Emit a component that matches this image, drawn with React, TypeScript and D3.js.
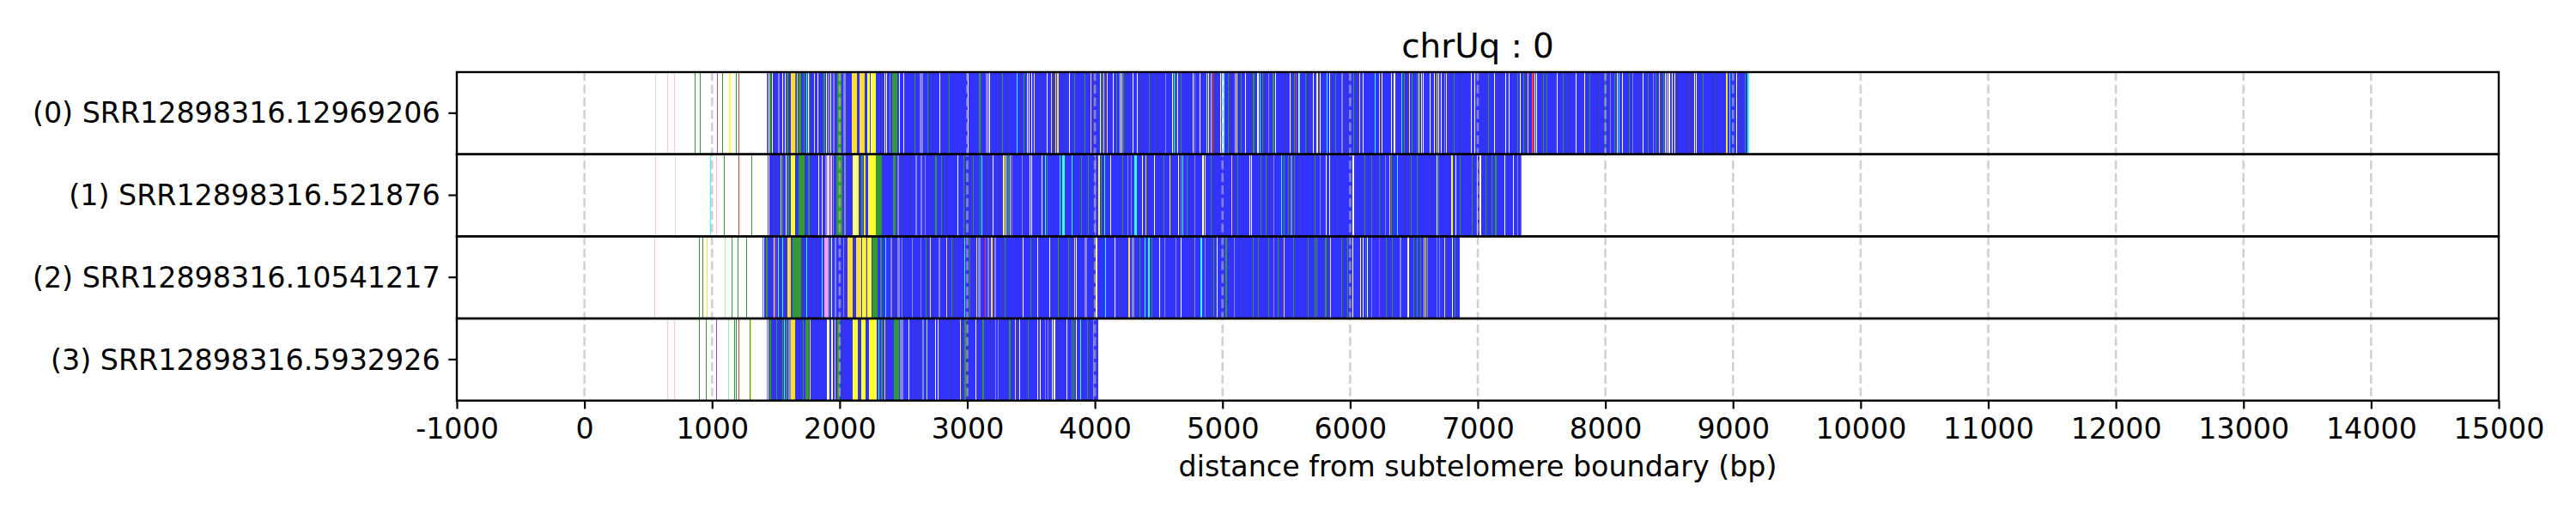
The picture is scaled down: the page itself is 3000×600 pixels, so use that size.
import { useEffect, useRef } from 'react'
import * as d3 from 'd3'

type Feature = [number, number, string] // [start bp, length bp, colour key]

const title = 'chrUq : 0'
const xLabel = 'distance from subtelomere boundary (bp)'
const readLabels = [
  '(0) SRR12898316.12969206',
  '(1) SRR12898316.521876',
  '(2) SRR12898316.10541217',
  '(3) SRR12898316.5932926',
]
const blockStart = [1431, 1436, 1397, 1431]
const blockEnd = [9126, 7341, 6859, 4026]
const xTicks = d3.range(-1000, 15001, 1000)
const gridTicks = d3.range(0, 14001, 1000)

const palette: Record<string, string> = {
  B: '#3333ff', G: '#339933', Y: '#ffdd33', L: '#ffff33', C: '#33ffff',
  P: '#8585e0', D: '#3a3aa0', W: '#ffffff', K: '#ffc4d2', I: '#f19bf1',
  V: '#a944dd', R: '#ff3b3b', E: '#a6f0a6', M: '#b84444', S: '#dedede',
}

const read0: Feature[] = [
  [552, 6, 'S'], [650, 6, 'K'], [702, 6, 'K'], [865, 6, 'G'], [906, 6, 'G'], [1040, 6, 'V'], [1081, 6, 'G'],
  [1130, 6, 'L'], [1140, 6, 'L'], [1189, 6, 'G'], [1207, 6, 'M'],
  [1442, 7, 'W'], [1451, 11, 'G'], [1469, 7, 'W'], [1481, 7, 'D'], [1516, 11, 'P'], [1550, 7, 'W'], [1572, 7, 'W'],
  [1584, 11, 'G'], [1606, 7, 'D'], [1615, 36, 'Y'], [1651, 9, 'G'], [1662, 11, 'Y'], [1678, 18, 'G'], [1700, 7, 'D'],
  [1716, 11, 'G'], [1741, 7, 'C'], [1750, 7, 'W'], [1759, 9, 'G'], [1799, 9, 'Y'], [1828, 7, 'W'], [1871, 18, 'G'],
  [1893, 7, 'W'], [1907, 13, 'P'], [1929, 7, 'W'], [1947, 11, 'P'], [1981, 34, 'G'], [2028, 18, 'P'], [2059, 7, 'D'],
  [2095, 40, 'Y'], [2158, 36, 'Y'], [2194, 7, 'D'], [2216, 22, 'L'], [2241, 7, 'W'], [2250, 34, 'L'], [2319, 7, 'D'],
  [2335, 7, 'D'], [2351, 7, 'W'], [2366, 5, 'W'], [2391, 9, 'P'], [2414, 40, 'G'], [2467, 7, 'W'], [2499, 7, 'W'],
  [2588, 7, 'G'], [2624, 27, 'P'], [2687, 7, 'G'], [2725, 7, 'D'], [2781, 7, 'W'], [2858, 7, 'G'],
  [3006, 7, 'W'], [3091, 11, 'G'], [3147, 27, 'P'], [3174, 7, 'W'], [3248, 7, 'D'], [3270, 7, 'G'], [3304, 7, 'D'],
  [3389, 7, 'C'], [3423, 7, 'D'], [3438, 9, 'G'], [3465, 7, 'W'], [3483, 7, 'W'], [3499, 11, 'W'], [3521, 7, 'Y'],
  [3562, 7, 'D'], [3625, 7, 'W'], [3656, 7, 'Y'], [3670, 7, 'D'], [3692, 7, 'Y'], [3706, 9, 'Y'], [3759, 7, 'D'],
  [3800, 7, 'W'], [3838, 7, 'G'], [3916, 7, 'G'], [3966, 9, 'Y'], [4037, 7, 'W'], [4055, 7, 'G'], [4069, 7, 'Y'],
  [4091, 7, 'Y'], [4141, 7, 'W'], [4167, 7, 'G'], [4194, 7, 'W'], [4208, 7, 'W'], [4224, 7, 'G'], [4257, 7, 'D'],
  [4297, 7, 'W'], [4329, 7, 'W'], [4365, 7, 'D'], [4425, 7, 'G'], [4486, 7, 'D'], [4549, 7, 'P'],
  [4607, 7, 'W'], [4620, 7, 'C'], [4629, 7, 'G'], [4647, 7, 'W'], [4672, 7, 'G'], [4764, 7, 'W'], [4782, 7, 'P'],
  [4820, 7, 'W'], [4874, 7, 'E'], [4885, 7, 'W'], [4907, 7, 'Y'], [4921, 9, 'R'], [4934, 7, 'D'], [4979, 9, 'W'],
  [4997, 9, 'W'], [5008, 7, 'C'], [5042, 7, 'G'], [5065, 7, 'D'], [5098, 7, 'Y'], [5109, 7, 'W'], [5143, 7, 'G'],
  [5177, 9, 'W'], [5217, 7, 'D'], [5239, 11, 'G'], [5273, 9, 'W'], [5293, 7, 'C'], [5311, 7, 'G'], [5334, 7, 'D'],
  [5356, 7, 'P'], [5390, 13, 'G'], [5414, 7, 'W'], [5486, 7, 'D'], [5524, 7, 'W'], [5558, 7, 'G'], [5571, 7, 'R'],
  [5594, 7, 'W'], [5603, 7, 'C'], [5648, 7, 'G'], [5670, 7, 'D'], [5711, 7, 'W'], [5733, 13, 'L'], [5760, 7, 'W'],
  [5816, 7, 'C'], [5838, 7, 'W'], [5883, 7, 'G'], [5928, 13, 'P'], [5962, 7, 'D'], [6024, 7, 'G'], [6069, 7, 'Y'],
  [6101, 7, 'W'],
  [6193, 7, 'C'], [6226, 7, 'Y'], [6249, 7, 'W'], [6320, 9, 'W'], [6343, 9, 'W'], [6399, 7, 'C'], [6421, 7, 'G'],
  [6437, 7, 'D'], [6460, 7, 'Y'], [6482, 7, 'G'], [6522, 7, 'G'], [6538, 7, 'W'], [6554, 7, 'L'], [6572, 7, 'W'],
  [6623, 7, 'W'], [6657, 7, 'W'], [6675, 7, 'Y'], [6693, 7, 'W'], [6713, 7, 'W'], [6736, 7, 'P'], [6753, 7, 'Y'],
  [6809, 7, 'G'], [6859, 7, 'D'], [6944, 7, 'W'], [6971, 7, 'W'], [7083, 7, 'G'], [7128, 7, 'W'], [7173, 7, 'D'],
  [7213, 7, 'W'], [7240, 7, 'W'], [7307, 7, 'G'], [7330, 9, 'W'], [7357, 7, 'G'], [7390, 9, 'Y'], [7426, 9, 'R'],
  [7446, 7, 'W'], [7460, 7, 'W'], [7509, 7, 'G'], [7541, 7, 'G'], [7621, 7, 'W'], [7666, 7, 'G'], [7711, 7, 'D'],
  [7767, 7, 'W'],
  [7832, 9, 'W'], [7872, 7, 'G'], [7935, 7, 'D'], [7998, 7, 'G'], [8034, 7, 'P'], [8070, 7, 'G'], [8092, 7, 'W'],
  [8106, 7, 'C'], [8133, 7, 'W'], [8186, 7, 'G'], [8209, 7, 'P'], [8263, 7, 'D'], [8290, 7, 'W'], [8330, 9, 'G'],
  [8375, 7, 'P'], [8393, 7, 'G'], [8418, 7, 'Y'], [8451, 7, 'G'], [8465, 7, 'W'], [8478, 5, 'W'], [8492, 5, 'L'],
  [8503, 5, 'W'], [8518, 7, 'W'], [8541, 7, 'W'], [8554, 13, 'D'], [8635, 7, 'D'], [8666, 7, 'D'], [8693, 7, 'W'],
  [8711, 7, 'W'], [8760, 7, 'G'], [8837, 7, 'D'], [8873, 7, 'D'], [8945, 13, 'Y'], [8971, 7, 'C'], [9028, 7, 'W'],
  [9057, 7, 'D'], [9090, 7, 'G'], [9116, 8, 'C'],
]

const read1: Feature[] = [
  [552, 6, 'K'], [707, 6, 'S'], [983, 9, 'C'], [1035, 6, 'K'], [1094, 6, 'G'], [1207, 6, 'M'], [1310, 6, 'G'],
  [1442, 7, 'W'], [1465, 7, 'D'], [1498, 7, 'D'], [1534, 9, 'Y'], [1548, 7, 'G'], [1579, 7, 'W'], [1593, 9, 'G'],
  [1615, 36, 'L'], [1651, 7, 'D'], [1678, 49, 'G'], [1727, 7, 'D'], [1752, 13, 'G'], [1830, 7, 'W'], [1862, 5, 'W'],
  [1889, 9, 'P'], [1902, 13, 'K'], [1916, 5, 'W'], [1929, 9, 'K'], [1947, 9, 'P'], [1974, 45, 'G'], [2037, 9, 'P'],
  [2064, 7, 'D'], [2100, 16, 'L'], [2116, 13, 'W'], [2129, 18, 'L'], [2153, 7, 'D'], [2171, 13, 'G'], [2189, 13, 'Y'],
  [2221, 63, 'L'], [2284, 45, 'G'], [2418, 18, 'G'], [2454, 9, 'P'], [2485, 7, 'D'], [2553, 7, 'D'], [2593, 13, 'P'],
  [2631, 13, 'P'], [2665, 11, 'P'], [2750, 9, 'G'], [2795, 7, 'G'], [2833, 7, 'D'], [2923, 7, 'W'],
  [2967, 11, 'G'], [3001, 7, 'D'], [3041, 7, 'G'], [3095, 7, 'G'], [3113, 7, 'C'], [3147, 7, 'D'], [3174, 7, 'D'],
  [3196, 7, 'W'], [3243, 7, 'D'], [3282, 9, 'L'], [3297, 9, 'W'], [3311, 13, 'G'], [3333, 9, 'K'], [3349, 7, 'P'],
  [3427, 7, 'P'], [3488, 7, 'W'], [3501, 7, 'W'], [3584, 7, 'W'], [3607, 7, 'C'], [3625, 7, 'G'], [3723, 9, 'C'],
  [3746, 18, 'C'], [3777, 7, 'D'], [3815, 9, 'C'], [3894, 7, 'G'], [3943, 9, 'G'], [3999, 9, 'P'], [4028, 9, 'L'],
  [4046, 7, 'G'], [4073, 7, 'C'], [4118, 7, 'W'], [4212, 7, 'G'], [4257, 7, 'P'], [4280, 7, 'P'], [4311, 9, 'C'],
  [4324, 7, 'C'], [4369, 7, 'W'], [4396, 7, 'Y'], [4414, 7, 'D'], [4463, 7, 'W'], [4537, 7, 'G'],
  [4582, 9, 'L'], [4652, 7, 'W'], [4670, 7, 'P'], [4688, 7, 'C'], [4719, 7, 'G'], [4777, 7, 'P'], [4842, 9, 'W'],
  [4858, 7, 'L'], [4907, 7, 'G'], [5069, 7, 'K'], [5114, 7, 'G'], [5208, 7, 'W'], [5222, 7, 'W'], [5298, 7, 'G'],
  [5338, 7, 'G'], [5367, 7, 'D'], [5396, 7, 'P'], [5457, 7, 'C'], [5479, 7, 'G'], [5513, 9, 'G'], [5535, 13, 'P'],
  [5558, 7, 'G'], [5592, 7, 'D'], [5719, 7, 'G'], [5764, 7, 'P'], [5809, 7, 'W'], [5838, 7, 'W'], [5912, 7, 'D'],
  [6020, 9, 'W'], [6114, 7, 'G'], [6164, 7, 'G'],
  [6226, 7, 'G'], [6276, 7, 'P'], [6309, 7, 'Y'], [6320, 7, 'G'], [6365, 7, 'C'], [6421, 7, 'D'], [6473, 7, 'G'],
  [6522, 7, 'G'], [6635, 7, 'D'], [6675, 7, 'W'], [6693, 7, 'G'], [6792, 11, 'L'], [6827, 7, 'W'], [6859, 7, 'G'],
  [6953, 7, 'G'], [6993, 9, 'K'], [7016, 13, 'W'], [7061, 7, 'G'], [7106, 7, 'G'], [7137, 13, 'G'], [7206, 7, 'W'],
  [7274, 7, 'W'], [7307, 7, 'P'],
]

const read2: Feature[] = [
  [546, 6, 'K'], [896, 7, 'G'], [922, 7, 'G'], [958, 9, 'Y'], [1100, 7, 'E'], [1150, 7, 'G'], [1202, 7, 'G'],
  [1265, 7, 'G'],
  [1403, 9, 'W'], [1420, 13, 'G'], [1449, 7, 'D'], [1481, 7, 'W'], [1494, 7, 'R'], [1516, 9, 'C'], [1534, 7, 'D'],
  [1552, 7, 'C'], [1570, 7, 'D'], [1593, 27, 'Y'], [1620, 7, 'D'], [1633, 63, 'G'], [1696, 7, 'D'], [1714, 7, 'D'],
  [1741, 7, 'C'], [1779, 7, 'D'], [1812, 7, 'D'], [1857, 7, 'C'], [1880, 36, 'I'], [1920, 9, 'G'], [1936, 7, 'W'],
  [1958, 18, 'P'], [2025, 11, 'P'], [2064, 36, 'Y'], [2104, 7, 'D'], [2131, 36, 'Y'], [2176, 18, 'L'], [2194, 13, 'Y'],
  [2216, 34, 'L'], [2256, 40, 'G'], [2319, 9, 'G'], [2355, 7, 'C'], [2396, 13, 'P'], [2418, 7, 'D'], [2454, 18, 'P'],
  [2485, 9, 'P'], [2530, 7, 'D'], [2564, 11, 'P'], [2631, 11, 'P'], [2676, 7, 'G'], [2710, 7, 'Y'], [2732, 7, 'D'],
  [2777, 11, 'P'], [2838, 7, 'Y'], [2878, 7, 'G'], [2912, 7, 'D'],
  [2974, 7, 'C'], [3019, 7, 'G'], [3073, 7, 'Y'], [3082, 22, 'P'], [3140, 7, 'R'], [3158, 11, 'P'], [3187, 9, 'Y'],
  [3214, 11, 'P'], [3270, 7, 'D'], [3293, 7, 'G'], [3436, 7, 'W'], [3495, 7, 'G'], [3551, 7, 'W'], [3640, 7, 'W'],
  [3710, 7, 'G'], [3719, 7, 'D'], [3791, 7, 'G'], [3836, 7, 'Y'], [3853, 7, 'W'], [3921, 18, 'P'], [3979, 7, 'D'],
  [4006, 7, 'W'], [4015, 7, 'L'], [4078, 7, 'C'], [4156, 7, 'W'], [4201, 7, 'D'], [4262, 13, 'Y'], [4291, 18, 'P'],
  [4347, 7, 'G'], [4387, 9, 'C'], [4414, 13, 'C'], [4441, 7, 'G'], [4504, 7, 'W'], [4544, 7, 'P'],
  [4634, 7, 'P'], [4674, 7, 'W'], [4755, 7, 'D'], [4777, 7, 'P'], [4825, 13, 'C'], [4863, 7, 'P'], [4896, 7, 'D'],
  [4930, 7, 'G'], [4957, 7, 'W'], [5020, 7, 'G'], [5031, 7, 'G'], [5092, 7, 'P'], [5154, 7, 'D'], [5235, 7, 'G'],
  [5280, 7, 'G'], [5361, 7, 'G'], [5396, 7, 'P'], [5430, 7, 'G'], [5482, 7, 'Y'], [5553, 7, 'G'], [5666, 7, 'G'],
  [5719, 9, 'G'], [5733, 7, 'G'], [5805, 13, 'G'], [5845, 7, 'Y'], [5928, 11, 'G'], [5975, 7, 'G'], [6015, 9, 'W'],
  [6078, 7, 'W'], [6101, 7, 'W'], [6119, 7, 'G'], [6130, 7, 'W'], [6168, 7, 'P'],
  [6226, 7, 'V'], [6280, 7, 'G'], [6325, 7, 'G'], [6388, 11, 'P'], [6450, 9, 'W'], [6495, 7, 'G'], [6522, 7, 'G'],
  [6551, 7, 'G'], [6578, 7, 'Y'], [6590, 7, 'Y'], [6603, 7, 'P'], [6675, 7, 'P'], [6697, 7, 'P'], [6735, 9, 'Y'],
  [6796, 9, 'W'], [6818, 7, 'G'],
]

const read3: Feature[] = [
  [650, 6, 'K'], [702, 6, 'K'], [898, 7, 'G'], [953, 7, 'G'], [1030, 7, 'V'], [1125, 7, 'E'], [1171, 7, 'G'],
  [1184, 7, 'G'], [1205, 7, 'M'], [1292, 7, 'G'], [1300, 7, 'L'],
  [1435, 7, 'W'], [1449, 13, 'G'], [1481, 7, 'D'], [1503, 9, 'G'], [1534, 7, 'D'], [1548, 7, 'G'], [1561, 7, 'C'],
  [1579, 9, 'G'], [1597, 22, 'P'], [1620, 31, 'Y'], [1655, 7, 'D'], [1678, 7, 'D'], [1711, 7, 'G'], [1734, 22, 'G'],
  [1763, 7, 'Y'], [1781, 7, 'D'], [1898, 13, 'W'], [1913, 9, 'Y'], [1936, 13, 'W'], [1958, 9, 'Y'], [1978, 22, 'G'],
  [2014, 7, 'D'], [2104, 40, 'L'], [2153, 7, 'D'], [2171, 31, 'L'], [2207, 7, 'D'], [2230, 63, 'L'], [2306, 7, 'C'],
  [2324, 11, 'G'], [2351, 7, 'Y'], [2423, 45, 'G'], [2474, 27, 'P'], [2541, 7, 'W'], [2620, 7, 'D'], [2647, 11, 'P'],
  [2683, 7, 'E'], [2698, 7, 'D'], [2745, 7, 'W'], [2768, 7, 'W'], [2867, 7, 'D'], [2945, 7, 'Y'],
  [2979, 9, 'G'], [3001, 7, 'D'], [3064, 7, 'W'], [3118, 11, 'G'], [3169, 7, 'D'], [3221, 7, 'P'], [3237, 7, 'P'],
  [3326, 11, 'G'], [3371, 7, 'Y'], [3409, 7, 'W'], [3472, 11, 'G'], [3551, 7, 'W'], [3566, 7, 'W'], [3607, 7, 'P'],
  [3629, 7, 'P'], [3663, 7, 'W'], [3679, 9, 'W'], [3719, 7, 'D'], [3775, 7, 'W'], [3818, 9, 'G'], [3831, 7, 'G'],
  [3849, 7, 'W'], [3887, 7, 'C'], [3939, 7, 'G'], [3988, 7, 'P'],
]

const readFeatures = [read0, read1, read2, read3]

export default function App() {
  const svgRef = useRef<SVGSVGElement>(null)

  useEffect(() => {
    if (!svgRef.current) return

    const width = 3000
    const height = 600
    const margin = { top: 84, right: 90, bottom: 133.3, left: 532 }
    const font = "'DejaVu Sans', sans-serif"

    const svg = d3.select(svgRef.current)
    svg.selectAll('*').remove()

    svg.append('rect').attr('width', width).attr('height', height).attr('fill', '#ffffff')

    const x = d3.scaleLinear().domain([-1000, 15000]).range([margin.left, width - margin.right])
    const y = d3.scaleBand<number>()
      .domain(d3.range(readLabels.length))
      .range([margin.top, height - margin.bottom])
      .padding(0)

    // reads: telomeric block in blue, repeat variants painted over it
    readLabels.forEach((_, i) => {
      const g = svg.append('g')
      const y0 = y(i) as number
      const h = y.bandwidth()
      g.append('rect')
        .attr('x', x(blockStart[i])).attr('y', y0)
        .attr('width', x(blockEnd[i]) - x(blockStart[i])).attr('height', h)
        .attr('fill', palette.B)
      g.selectAll('rect.feat')
        .data(readFeatures[i])
        .join('rect')
        .attr('class', 'feat')
        .attr('x', d => x(d[0]))
        .attr('y', y0)
        .attr('width', d => Math.max(1, x(d[0] + d[1]) - x(d[0])))
        .attr('height', h)
        .attr('fill', d => palette[d[2]])
        .attr('shape-rendering', 'crispEdges')
    })

    // dashed grid sits above the bars
    svg.append('g')
      .selectAll('line')
      .data(gridTicks)
      .join('line')
      .attr('x1', d => x(d)).attr('x2', d => x(d))
      .attr('y1', margin.top).attr('y2', height - margin.bottom)
      .attr('stroke', '#b4b4b4')
      .attr('stroke-opacity', 0.62)
      .attr('stroke-width', 2.6)
      .attr('stroke-dasharray', '10.3,4.4')

    // one frame per read
    svg.append('g')
      .selectAll('rect')
      .data(d3.range(readLabels.length))
      .join('rect')
      .attr('x', margin.left)
      .attr('y', d => y(d) as number)
      .attr('width', x(15000) - x(-1000))
      .attr('height', y.bandwidth())
      .attr('fill', 'none')
      .attr('stroke', '#000')
      .attr('stroke-width', 2.4)

    const xAxis = d3.axisBottom(x)
      .tickValues(xTicks)
      .tickSize(9.7)
      .tickPadding(11)
      .tickFormat(d => String(d))

    const xg = svg.append('g')
      .attr('transform', `translate(0,${height - margin.bottom})`)
      .call(xAxis)
    xg.select('.domain').remove()
    xg.selectAll('line').attr('stroke', '#000').attr('stroke-width', 2.2)
    xg.selectAll('text').attr('fill', '#000').style('font-size', '33.3px').style('font-family', font)

    const yAxis = d3.axisLeft(y)
      .tickSize(9.7)
      .tickPadding(9.7)
      .tickFormat(d => readLabels[d as number])

    const yg = svg.append('g')
      .attr('transform', `translate(${margin.left},0)`)
      .call(yAxis)
    yg.select('.domain').remove()
    yg.selectAll('line').attr('stroke', '#000').attr('stroke-width', 2.2)
    yg.selectAll('text').attr('fill', '#000').attr('dy', '0.35em')
      .style('font-size', '33.3px').style('font-family', font)

    svg.append('text')
      .attr('x', (x(-1000) + x(15000)) / 2).attr('y', 67)
      .attr('text-anchor', 'middle')
      .style('font-size', '38.9px').style('font-family', font)
      .text(title)

    svg.append('text')
      .attr('x', (x(-1000) + x(15000)) / 2).attr('y', 555)
      .attr('text-anchor', 'middle')
      .style('font-size', '33.3px').style('font-family', font)
      .text(xLabel)
  }, [])

  return (
    <svg
      ref={svgRef}
      width={3000}
      height={600}
      style={{ position: 'absolute', left: 0, top: 0, display: 'block' }}
    />
  )
}
